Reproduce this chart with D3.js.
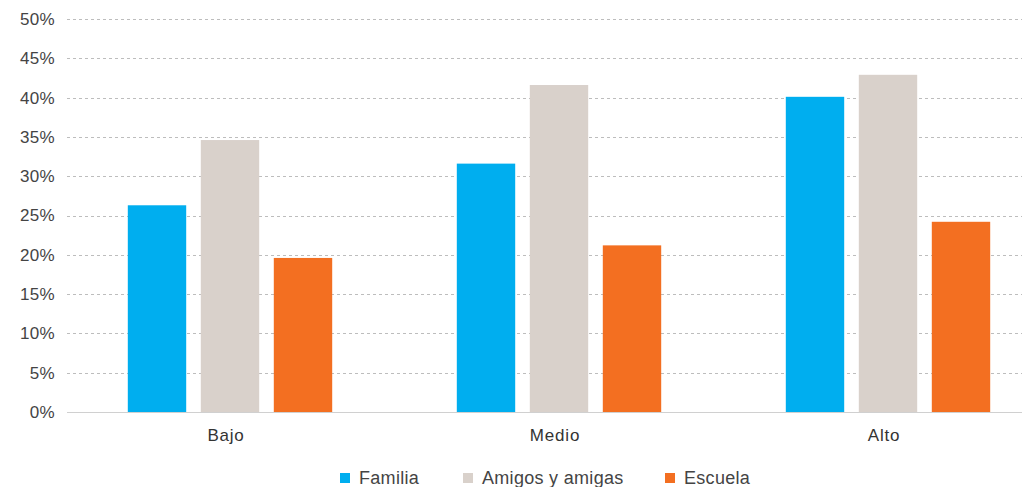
<!DOCTYPE html>
<html>
<head>
<meta charset="utf-8">
<script src="https://cdn.jsdelivr.net/npm/d3@7"></script>
<style>
  body { margin: 0; background: #fff; }
  text { font-family: "Liberation Sans", Arial, sans-serif; }
</style>
</head>
<body>
<div id="chart"></div>
<script>
// data
var categories = ["Bajo", "Medio", "Alto"];
var series = ["Familia", "Amigos y amigas", "Escuela"];
var familia = [26.3, 31.6, 40.1];
var amigos = [34.6, 41.6, 42.9];
var escuela = [19.6, 21.2, 24.2];
var yTicks = [0, 5, 10, 15, 20, 25, 30, 35, 40, 45, 50];
var colors = ["#00aeef", "#d9d1cb", "#f36f21"];

var values = [familia, amigos, escuela];

var width = 1026;
var height = 487;

var svg = d3.select("#chart")
    .append("svg")
    .attr("width", width)
    .attr("height", height);

var y = d3.scaleLinear()
    .domain([0, 50])
    .range([412, 19]);

// group positions
var x0 = d3.scaleBand()
    .domain(categories)
    .range([65.5, 1052.5]);

// bars inside a group
var x1 = d3.scaleBand()
    .domain(series)
    .range([-109.5, 109.5])
    .paddingInner(0.2)
    .paddingOuter(0.1);

var gridLeft = 67, gridRight = 1022;

// gridlines
svg.append("g")
    .selectAll("line")
    .data(yTicks.filter(function (d) { return d > 0; }))
    .enter()
    .append("line")
    .attr("x1", gridLeft)
    .attr("x2", gridRight)
    .attr("y1", function (d) { return Math.round(y(d)) + 0.5; })
    .attr("y2", function (d) { return Math.round(y(d)) + 0.5; })
    .attr("stroke", "#bdbdbd")
    .attr("stroke-dasharray", "3,3");

// y tick labels
svg.append("g")
    .selectAll("text")
    .data(yTicks)
    .enter()
    .append("text")
    .attr("x", 55)
    .attr("y", function (d) { return y(d); })
    .attr("dy", "0.35em")
    .attr("text-anchor", "end")
    .attr("font-size", 17)
    .attr("letter-spacing", "0.3px")
    .attr("fill", "#444")
    .text(function (d) { return d + "%"; });

// bars
var groups = svg.append("g")
    .selectAll("g")
    .data(categories)
    .enter()
    .append("g")
    .attr("transform", function (d) { return "translate(" + (x0(d) + x0.bandwidth() / 2) + ",0)"; });

groups.selectAll("rect")
    .data(function (d, i) {
        return series.map(function (s, j) { return { s: s, v: values[j][i], c: colors[j] }; });
    })
    .enter()
    .append("rect")
    .attr("x", function (d) { return x1(d.s); })
    .attr("width", x1.bandwidth())
    .attr("y", function (d) { return y(d.v); })
    .attr("height", function (d) { return y(0) - y(d.v); })
    .attr("fill", function (d) { return d.c; });

// baseline
svg.append("line")
    .attr("x1", gridLeft)
    .attr("x2", gridRight)
    .attr("y1", Math.round(y(0)) + 0.5)
    .attr("y2", Math.round(y(0)) + 0.5)
    .attr("stroke", "#d0d0d0");

// category labels
svg.append("g")
    .selectAll("text")
    .data(categories)
    .enter()
    .append("text")
    .attr("x", function (d) { return x0(d) + x0.bandwidth() / 2 - 4; })
    .attr("y", 441)
    .attr("text-anchor", "middle")
    .attr("font-size", 17)
    .attr("letter-spacing", "0.8px")
    .attr("fill", "#333")
    .text(function (d) { return d; });

// legend
var legendX = [340, 463, 665];
var legend = svg.append("g")
    .selectAll("g")
    .data(series)
    .enter()
    .append("g")
    .attr("transform", function (d, i) { return "translate(" + legendX[i] + ",473)"; });

legend.append("rect")
    .attr("width", 10)
    .attr("height", 10)
    .attr("fill", function (d, i) { return colors[i]; });

legend.append("text")
    .attr("x", 19)
    .attr("y", 11)
    .attr("font-size", 18)
    .attr("letter-spacing", "0.3px")
    .attr("fill", "#444")
    .text(function (d) { return d; });
</script>
</body>
</html>
